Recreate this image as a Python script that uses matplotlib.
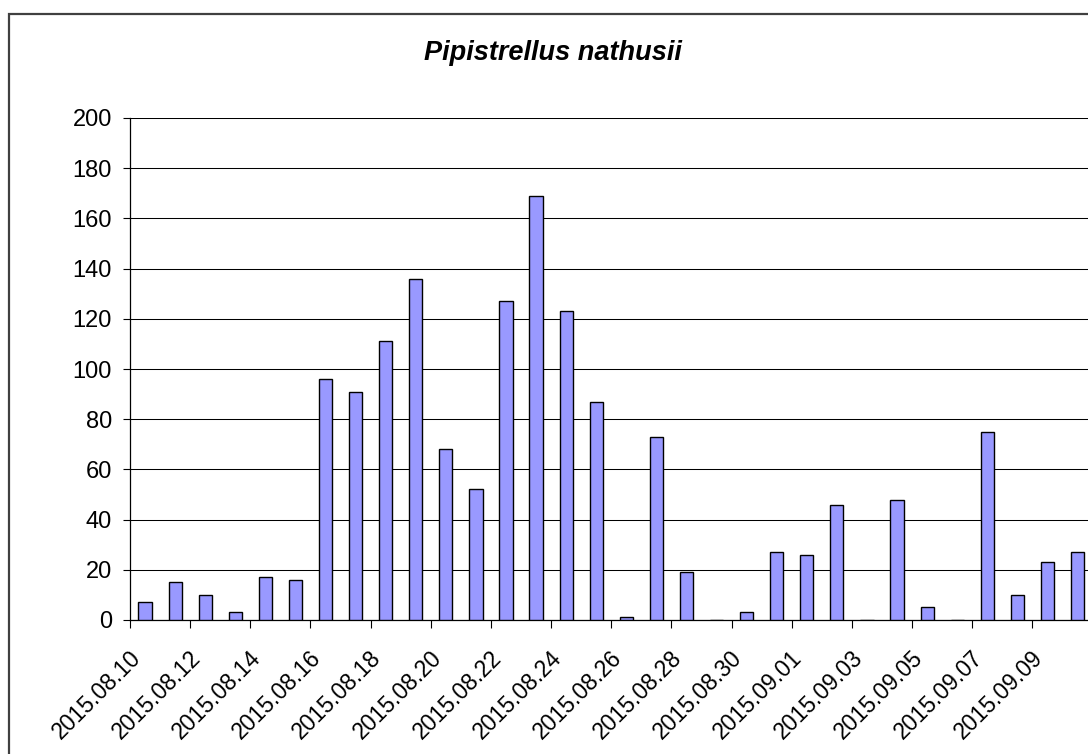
import numpy as np
import matplotlib
matplotlib.use('Agg')
import matplotlib.pyplot as plt
import matplotlib.transforms as mtransforms
from matplotlib.patches import Rectangle

plt.rcParams['font.family'] = ['Liberation Sans', 'DejaVu Sans']

# daily counts, 2015.08.10 .. 2015.09.10
dates = ['2015.08.10', '2015.08.11', '2015.08.12', '2015.08.13', '2015.08.14',
         '2015.08.15', '2015.08.16', '2015.08.17', '2015.08.18', '2015.08.19',
         '2015.08.20', '2015.08.21', '2015.08.22', '2015.08.23', '2015.08.24',
         '2015.08.25', '2015.08.26', '2015.08.27', '2015.08.28', '2015.08.29',
         '2015.08.30', '2015.08.31', '2015.09.01', '2015.09.02', '2015.09.03',
         '2015.09.04', '2015.09.05', '2015.09.06', '2015.09.07', '2015.09.08',
         '2015.09.09', '2015.09.10']
counts = [7, 15, 10, 3, 17, 16, 96, 91, 111, 136, 68, 52, 127, 169, 123, 87,
          1, 73, 19, 0, 3, 27, 26, 46, 0, 48, 5, 0, 75, 10, 23, 27]
yticks = [0, 20, 40, 60, 80, 100, 120, 140, 160, 180, 200]
title = 'Pipistrellus nathusii'

W, H = 1088, 754
fig = plt.figure(figsize=(W/100., H/100.), dpi=100)

# outer chart border (right/bottom edges fall outside the picture)
fig.patches.append(Rectangle((8.5/W, -0.5), 1.5, 1 - 13.5/H + 0.5,
                             transform=fig.transFigure, fill=False,
                             edgecolor='#404040', linewidth=1.6, clip_on=False))

n = len(counts)
cw = 30.08  # px per category
ax = fig.add_axes([130./W, 134./H, n*cw/W, 502./H])
x = np.arange(n)
ax.bar(x, counts, width=0.44, color='#9999FF', edgecolor='black', linewidth=1.0, zorder=3)

ax.set_xlim(-0.5, n - 0.5)
ax.set_ylim(0, 200)
ax.set_yticks(yticks)
ax.yaxis.grid(True, color='black', linewidth=0.75)
ax.set_axisbelow(True)
for s in ['top', 'right']:
    ax.spines[s].set_visible(False)
ax.spines['left'].set_linewidth(0.9)
ax.spines['bottom'].set_linewidth(0.9)
ax.tick_params(axis='y', direction='out', length=5, width=0.8, pad=8, labelsize=17)

# major ticks between every second category, labels on minor ticks
ax.set_xticks(np.arange(-0.5, n, 2))
ax.set_xticklabels([])
ax.tick_params(axis='x', which='major', direction='out', length=6, width=0.8)
ax.set_xticks(x[::2], minor=True)
ax.set_xticklabels(dates[::2], minor=True)
ax.tick_params(axis='x', which='minor', length=0, pad=25, labelsize=16.5)
shift = mtransforms.ScaledTranslation(-8/100., 0, fig.dpi_scale_trans)
for lab in ax.get_xticklabels(minor=True):
    lab.set_rotation(45)
    lab.set_ha('right')
    lab.set_va('center')
    lab.set_rotation_mode('anchor')
    lab.set_transform(lab.get_transform() + shift)

fig.text(553./W, 1 - 60./H, title, fontsize=19.5, fontweight='bold',
         style='italic', ha='center', va='baseline')

plt.savefig('out.png', dpi=100)
